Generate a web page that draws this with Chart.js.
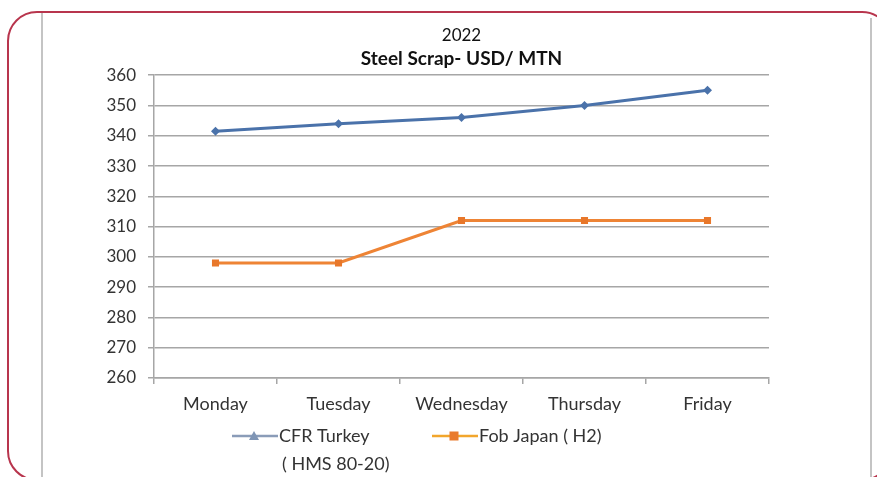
<!DOCTYPE html>
<html>
<head>
<meta charset="utf-8">
<script src="https://cdn.jsdelivr.net/npm/chart.js@4"></script>
<style>
  html, body { margin: 0; padding: 0; background: #fff; overflow: hidden; }
  #wrap { position: relative; width: 877px; height: 477px; overflow: hidden; }
  #frame {
    position: absolute; left: 7px; top: 11px; width: 885px; height: 470px;
    border: 2.5px solid #b8354d; border-radius: 30px; box-sizing: border-box;
  }
  .edge { position: absolute; width: 2px; background: #c4c4c4; }
  canvas { position: absolute; left: 0; top: 0; }
</style>
</head>
<body>
<div id="wrap">
  <div class="edge" style="left:41px; top:13px; height:464px;"></div>
  <div class="edge" style="left:870px; top:18px; height:459px;"></div>
  <div id="frame"></div>
  <canvas id="chart" width="877" height="477"></canvas>
</div>
<script>
// data
const days = ['Monday', 'Tuesday', 'Wednesday', 'Thursday', 'Friday'];
const cfrTurkey = [341.5, 344, 346, 350, 355];
const fobJapan = [298, 298, 312, 312, 312];
const seriesNames = [['CFR Turkey', '( HMS 80-20)'], ['Fob Japan ( H2)']];
const yTicks = [260, 270, 280, 290, 300, 310, 320, 330, 340, 350, 360];

const FONT = 'Lato, "Liberation Sans", sans-serif';
const gridGray = '#a6a6a6';
const textGray = '#333333';

// legend drawn under the axis, excel style
const excelLegend = {
  id: 'excelLegend',
  afterDraw(chart) {
    const ctx = chart.ctx;
    const items = [
      { x: 232, color: '#8a9cb8', marker: 'tri', lines: seriesNames[0] },
      { x: 432, color: '#f2a62c', marker: 'sq', lines: seriesNames[1] }
    ];
    ctx.save();
    ctx.font = '18px ' + FONT;
    ctx.textBaseline = 'middle';
    items.forEach(it => {
      const y = 436;
      ctx.strokeStyle = it.color;
      ctx.lineWidth = 2.5;
      ctx.beginPath();
      ctx.moveTo(it.x, y);
      ctx.lineTo(it.x + 46, y);
      ctx.stroke();
      const mx = it.x + 22;
      if (it.marker === 'tri') {
        ctx.fillStyle = '#7f95b5';
        ctx.beginPath();
        ctx.moveTo(mx, y - 5);
        ctx.lineTo(mx + 5, y + 4);
        ctx.lineTo(mx - 5, y + 4);
        ctx.closePath();
        ctx.fill();
      } else {
        ctx.fillStyle = '#e97a2c';
        ctx.fillRect(mx - 4.5, y - 4.5, 9, 9);
      }
      ctx.fillStyle = textGray;
      ctx.fillText(it.lines[0], it.x + 47, y);
      if (it.lines[1]) ctx.fillText(it.lines[1], it.x + 50, y + 28);
    });
    ctx.restore();
  }
};

new Chart(document.getElementById('chart').getContext('2d'), {
  type: 'line',
  data: {
    labels: days,
    datasets: [{
      label: seriesNames[0].join(' '),
      data: cfrTurkey,
      borderColor: '#4a72aa',
      backgroundColor: '#4a72aa',
      borderWidth: 3,
      pointStyle: 'rectRot',
      pointRadius: 4.5,
      pointBorderWidth: 0,
      tension: 0
    }, {
      label: seriesNames[1][0],
      data: fobJapan,
      borderColor: '#ee8435',
      backgroundColor: '#e8772a',
      borderWidth: 3,
      pointStyle: 'rect',
      pointRadius: 5,
      pointBorderWidth: 0,
      tension: 0
    }]
  },
  options: {
    responsive: false,
    animation: false,
    layout: { padding: { left: 100, right: 108, top: 25, bottom: 59 } },
    plugins: {
      legend: { display: false },
      tooltip: { enabled: false },
      title: {
        display: true,
        text: '2022',
        fullSize: false,
        color: '#111',
        font: { family: FONT, size: 17, weight: 'normal' },
        padding: { top: 0, bottom: 2 }
      },
      subtitle: {
        display: true,
        text: 'Steel Scrap- USD/ MTN',
        fullSize: false,
        color: '#111',
        font: { family: FONT, size: 19, weight: 'bold' },
        padding: { top: 0, bottom: 5 }
      }
    },
    scales: {
      x: {
        offset: true,
        afterFit: s => { s.height = 40; },
        grid: { drawOnChartArea: false, offset: true, tickLength: 6, color: gridGray, lineWidth: 1.5 },
        border: { color: gridGray, width: 1.5 },
        ticks: { color: textGray, padding: 9, font: { family: FONT, size: 18 } }
      },
      y: {
        min: yTicks[0],
        max: yTicks[yTicks.length - 1],
        afterFit: s => { s.width = 54; },
        afterBuildTicks: s => { s.ticks = yTicks.map(v => ({ value: v })); },
        grid: { color: gridGray, lineWidth: 1.5, tickLength: 6 },
        border: { color: gridGray, width: 1.5 },
        ticks: { color: textGray, padding: 12, font: { family: FONT, size: 17 } }
      }
    }
  },
  plugins: [excelLegend]
});
</script>
</body>
</html>
